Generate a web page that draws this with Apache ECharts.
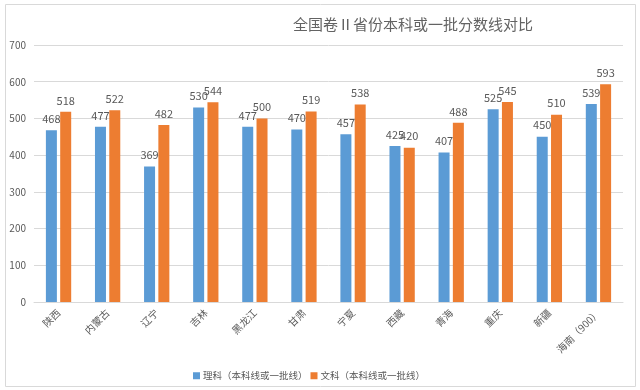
<!DOCTYPE html>
<html><head><meta charset="utf-8">
<script src="https://cdn.jsdelivr.net/npm/echarts@6/dist/echarts.min.js"></script>
<style>html,body{margin:0;padding:0;background:#fff}#c{width:640px;height:390px}</style>
</head><body><div id="c"></div>
<script>
const categories = ['陕西','内蒙古','辽宁','吉林','黑龙江','甘肃','宁夏','西藏','青海','重庆','新疆','海南（900）'];
const science = [468,477,369,530,477,470,457,425,407,525,450,539];
const arts = [518,522,482,544,500,519,538,420,488,545,510,593];
const seriesNames = ['理科（本科线或一批线）','文科（本科线或一批线）'];
const titleText = '全国卷Ⅱ省份本科或一批分数线对比';

const font = '"Microsoft YaHei","Noto Sans CJK SC",sans-serif';
const chart = echarts.init(document.getElementById('c'));
chart.setOption({
  animation:false,
  textStyle:{fontFamily:font},
  title:{text:titleText,left:408,textAlign:'center',top:12,textStyle:{fontSize:15,fontWeight:'normal',color:'#636363',fontFamily:font}},
  graphic:[{type:'rect',shape:{x:5.5,y:4.5,width:630,height:382},style:{fill:'none',stroke:'#D9D9D9',lineWidth:1},silent:true,z:-1}],
  legend:{left:188,top:366,itemWidth:7,itemHeight:7,itemGap:3,icon:'rect',textStyle:{fontSize:9.5,color:'#595959',fontFamily:font,padding:[0,0,0,-2]},data:seriesNames},
  grid:{left:34,right:17,top:45,bottom:88,containLabel:false},
  xAxis:{type:'category',data:categories,axisLine:{lineStyle:{color:'#D9D9D9'}},axisTick:{show:false},
    axisLabel:{rotate:45,fontSize:10,color:'#595959',interval:0,margin:9}},
  yAxis:{type:'value',min:0,max:700,interval:100,axisLine:{show:false},axisTick:{show:false},
    splitLine:{lineStyle:{color:'#D9D9D9'}},axisLabel:{fontSize:10,color:'#595959',margin:8}},
  series:[
    {name:seriesNames[0],type:'bar',data:science,barWidth:11,barGap:'30%',itemStyle:{color:'#5B9BD5'},
      label:{show:true,position:'top',distance:6,fontSize:11,color:'#595959'}},
    {name:seriesNames[1],type:'bar',data:arts,barWidth:11,itemStyle:{color:'#ED7D31'},
      label:{show:true,position:'top',distance:6,fontSize:11,color:'#595959'}}
  ]
});
</script></body></html>
